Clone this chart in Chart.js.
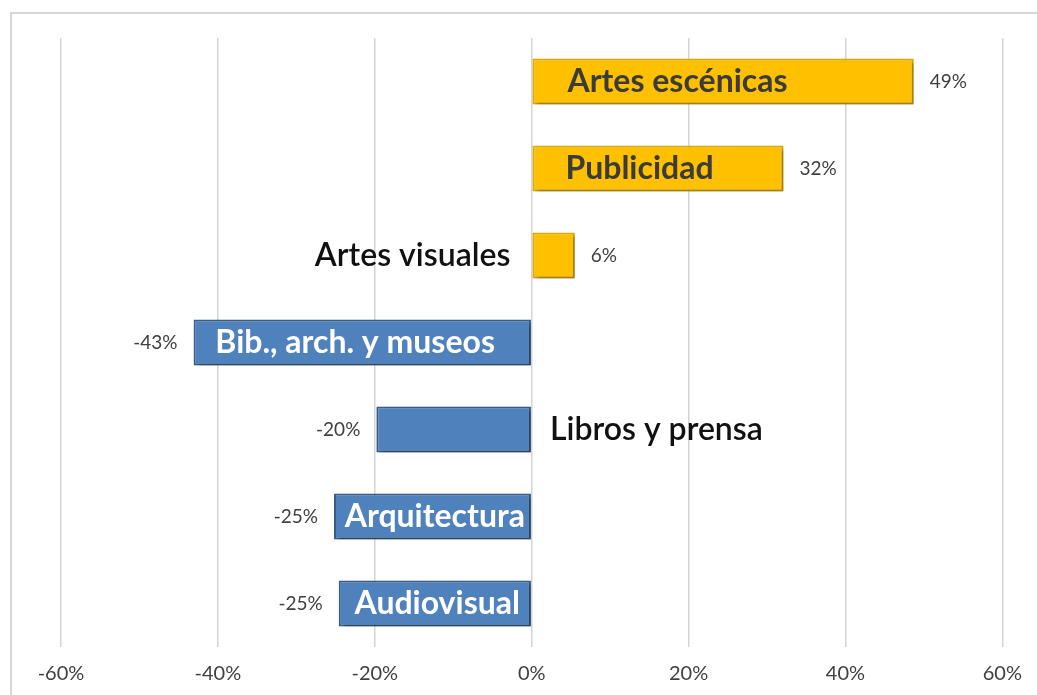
<!DOCTYPE html>
<html>
<head>
<meta charset="utf-8">
<script src="https://cdn.jsdelivr.net/npm/chart.js@4/dist/chart.umd.min.js"></script>
<style>
  html, body { margin: 0; padding: 0; background: #fff; overflow: hidden; }
  #wrap { position: relative; width: 1037px; height: 695px; }
  #myChart { display: block; }
  #frame { position: absolute; left: 10px; top: 12px; right: 0; bottom: 0;
           border-top: 2px solid #d6d6d6; border-left: 2px solid #d6d6d6; pointer-events: none; }
</style>
</head>
<body>
<div id="wrap">
  <canvas id="myChart" width="1037" height="695"></canvas>
  <div id="frame"></div>
</div>
<script>
// sectors and variation (%)
const sectors = ["Artes escénicas", "Publicidad", "Artes visuales", "Bib., arch. y museos", "Libros y prensa", "Arquitectura", "Audiovisual"];
const change = [48.7, 32.1, 5.5, -43.1, -19.8, -25.2, -24.6];
const xTicks = [-60, -40, -20, 0, 20, 40, 60];

// where each sector name goes: inside the bar or outside next to the axis
const namePlace = ["in", "in", "out", "in", "out", "in", "in"];
const nameInset = [35, 33, 22, 36, 19, 6, 11];

const orange = "#FFC000", blue = "#4F81BD";
const fontFam = "Lato, 'Open Sans', sans-serif";

const barShadow = {
  id: "barShadow",
  beforeDatasetDraw(chart) {
    const c = chart.ctx;
    c.save();
    c.shadowColor = "rgba(0,0,0,0.28)";
    c.shadowBlur = 4;
    c.shadowOffsetX = 3;
    c.shadowOffsetY = 3;
  },
  afterDatasetDraw(chart) {
    chart.ctx.restore();
  }
};

const barLabels = {
  id: "barLabels",
  afterDatasetsDraw(chart) {
    const c = chart.ctx;
    const meta = chart.getDatasetMeta(0);
    c.save();
    c.textBaseline = "middle";
    meta.data.forEach((bar, i) => {
      const v = change[i];
      const pos = v >= 0;
      // value label
      c.font = "19px " + fontFam;
      c.fillStyle = "#404040";
      c.textAlign = pos ? "left" : "right";
      c.fillText(Math.round(v) + "%", pos ? bar.x + 16 : bar.x - 16, bar.y);
      // sector name
      const inside = namePlace[i] === "in";
      if (inside) {
        c.font = "bold 32px " + fontFam;
        c.fillStyle = pos ? "#3b3b3b" : "#ffffff";
        c.textAlign = pos ? "left" : "right";
        c.fillText(sectors[i], pos ? bar.base + nameInset[i] : bar.base - nameInset[i], bar.y);
      } else {
        c.font = "600 32px " + fontFam;
        c.fillStyle = "#111111";
        c.textAlign = pos ? "right" : "left";
        c.fillText(sectors[i], pos ? bar.base - nameInset[i] : bar.base + nameInset[i], bar.y);
      }
    });
    c.restore();
  }
};

const ctx = document.getElementById("myChart").getContext("2d");
new Chart(ctx, {
  type: "bar",
  data: {
    labels: sectors,
    datasets: [{
      data: change,
      backgroundColor: change.map(v => v >= 0 ? orange : blue),
      borderColor: change.map(v => v >= 0 ? "#E3A900" : "#385D8A"),
      borderWidth: 2,
      borderSkipped: false,
      categoryPercentage: 1,
      barPercentage: 0.53
    }]
  },
  options: {
    indexAxis: "y",
    responsive: false,
    animation: false,
    devicePixelRatio: 1,
    layout: { padding: { left: 61, right: 30, top: 38, bottom: 0 } },
    plugins: { legend: { display: false }, tooltip: { enabled: false } },
    scales: {
      x: {
        min: -60, max: 60,
        afterBuildTicks(axis) { axis.ticks = xTicks.map(v => ({ value: v })); },
        afterFit(axis) { axis.height = 48; },
        grid: { color: "#d4d4d4", lineWidth: 1.5, drawTicks: false },
        border: { display: false },
        ticks: {
          padding: 15,
          autoSkip: false,
          maxRotation: 0,
          minRotation: 0,
          color: "#404040",
          font: { size: 20, family: fontFam },
          callback: v => v + "%"
        }
      },
      y: { display: false }
    }
  },
  plugins: [barShadow, barLabels]
});
</script>
</body>
</html>
